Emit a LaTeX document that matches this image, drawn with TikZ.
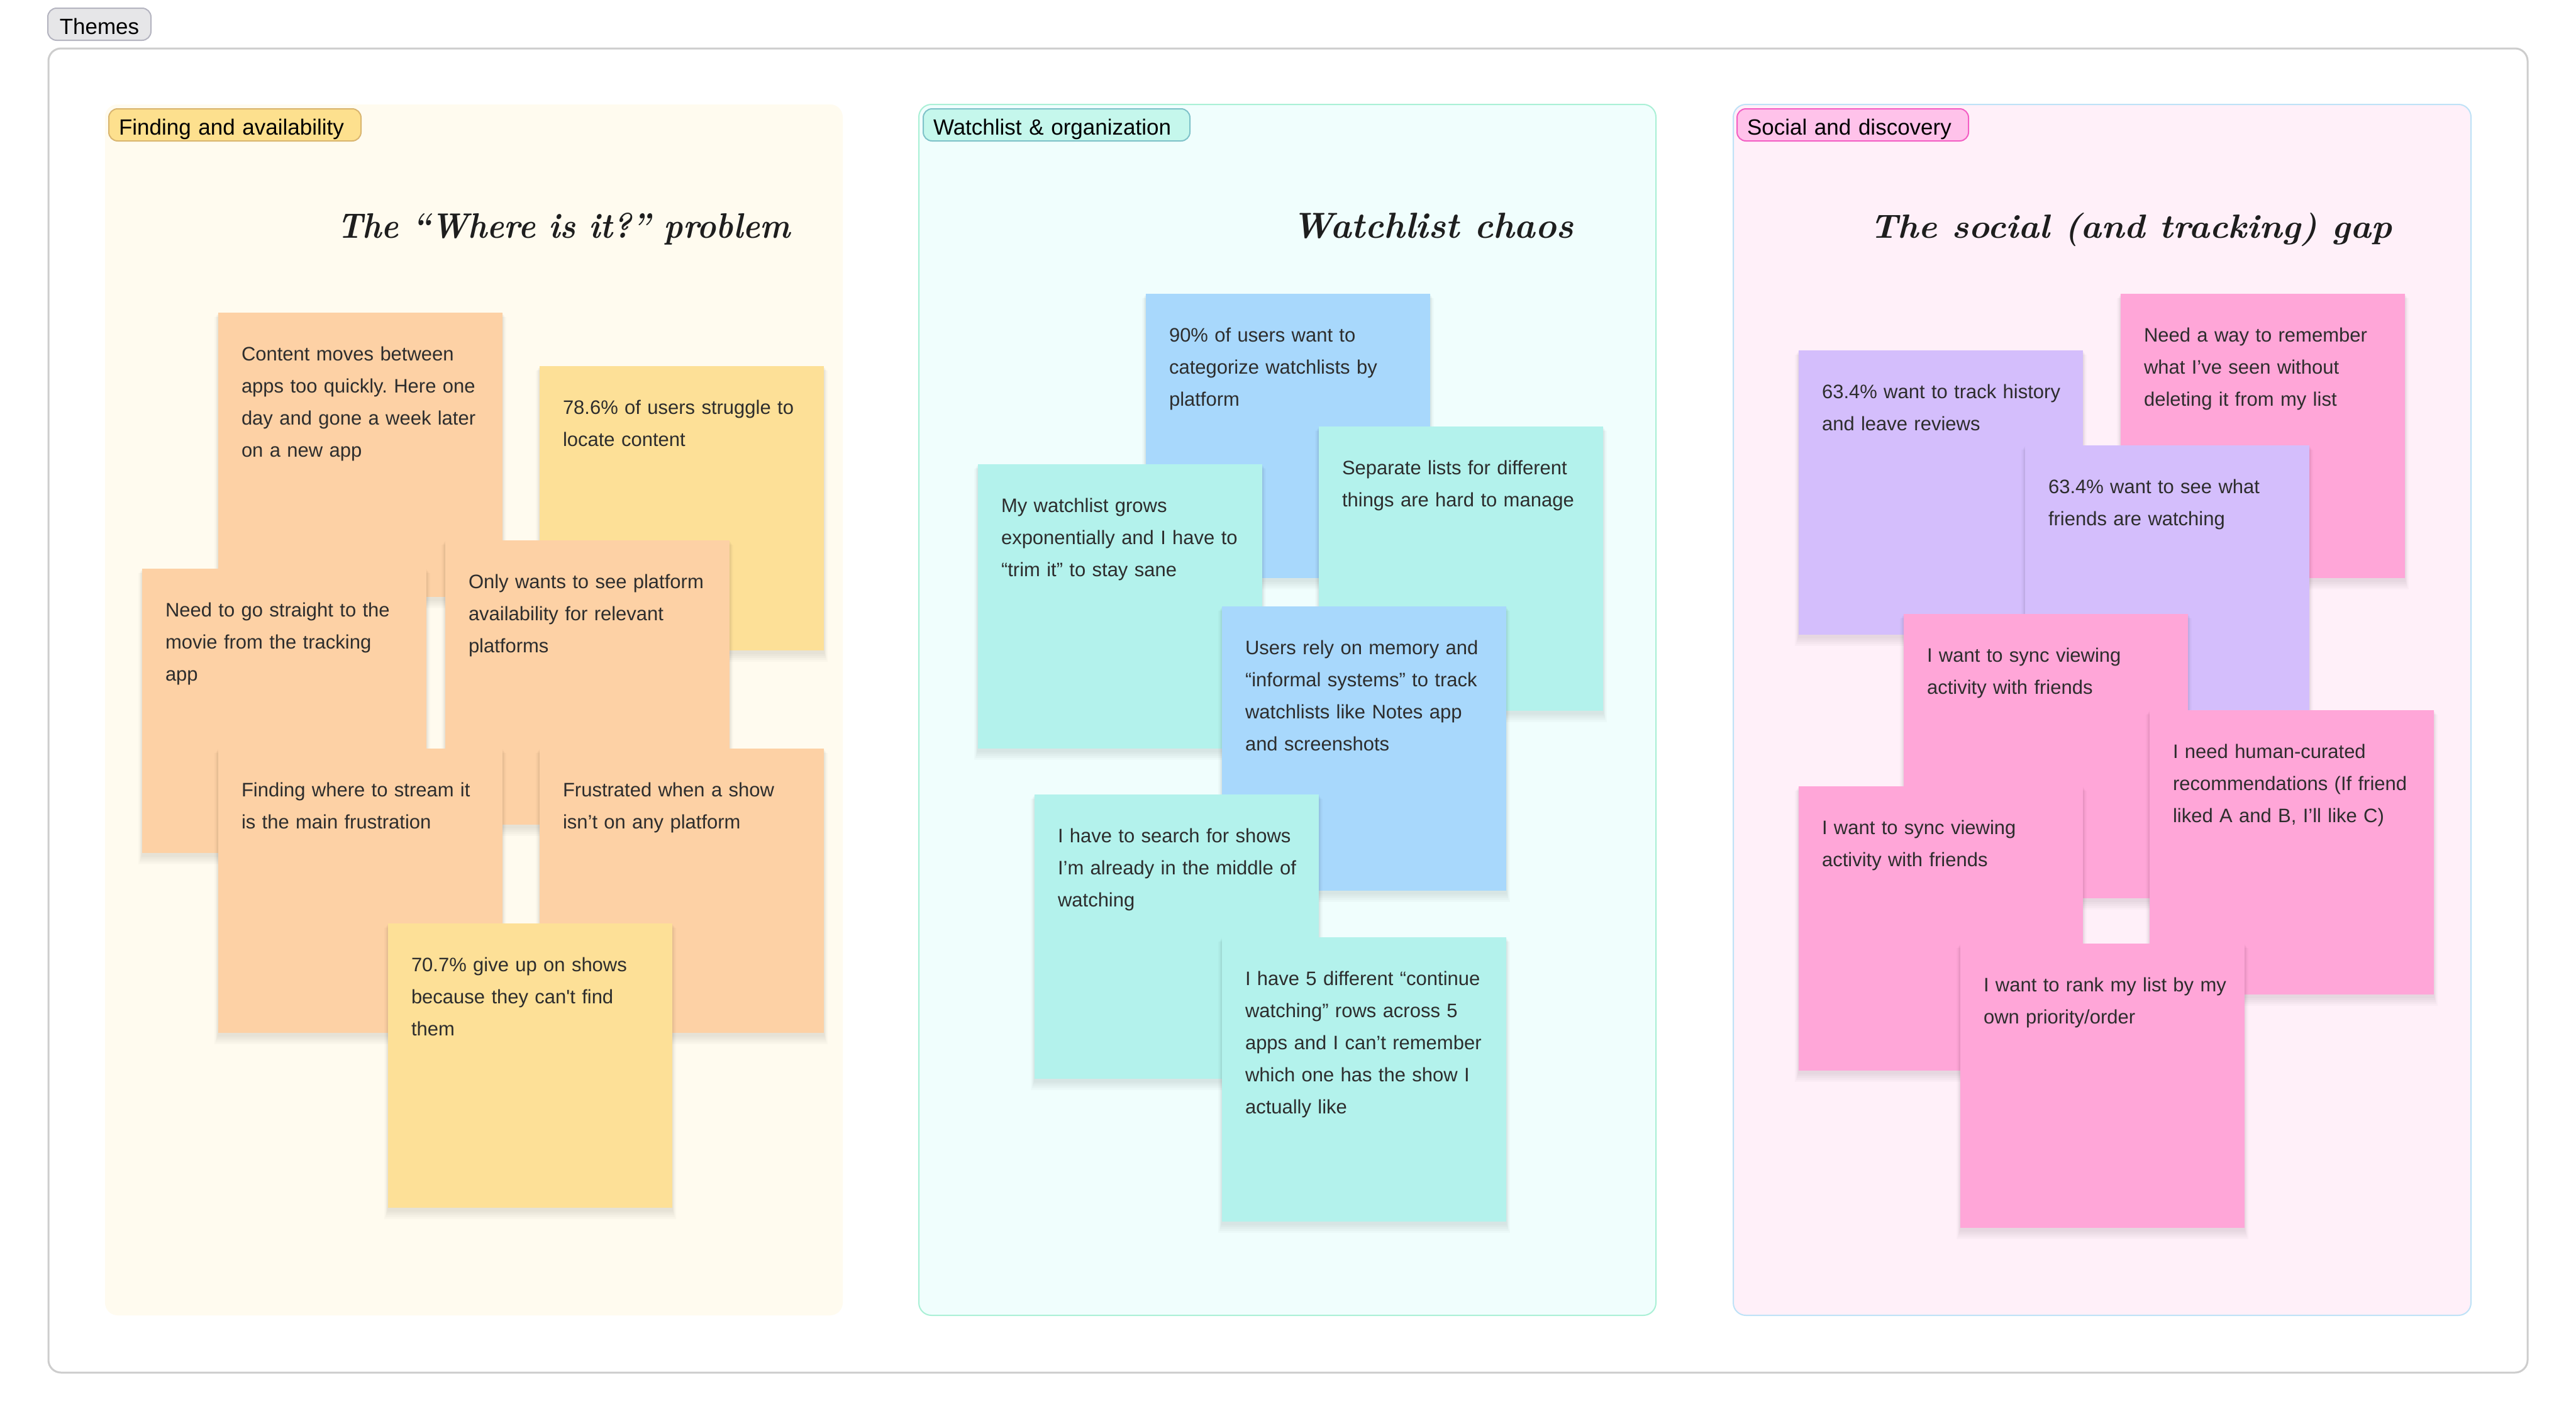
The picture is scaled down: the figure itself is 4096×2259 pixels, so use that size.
\documentclass[tikz,border=0pt]{standalone}
\usepackage{fontspec}
\newfontfamily\notefont{Liberation Sans}
\frenchspacing
\definecolor{framecol}{HTML}{CDCDCD}
\definecolor{themesfill}{HTML}{E6E6E8}
\definecolor{themesdraw}{HTML}{B4B4C0}
\definecolor{paneA}{HTML}{FFFBEF}
\definecolor{paneB}{HTML}{F0FEFD}
\definecolor{paneBdraw}{HTML}{AAF0D6}
\definecolor{paneC}{HTML}{FFF0F9}
\definecolor{paneCdraw}{HTML}{BEE2F7}
\definecolor{tagAfill}{HTML}{FDE08E}
\definecolor{tagAdraw}{HTML}{D9B56F}
\definecolor{tagBfill}{HTML}{C5F7EC}
\definecolor{tagBdraw}{HTML}{7FC2C9}
\definecolor{tagCfill}{HTML}{FFC2EA}
\definecolor{tagCdraw}{HTML}{F35EC4}
\definecolor{orangenote}{HTML}{FDD1A5}
\definecolor{yellownote}{HTML}{FDE097}
\definecolor{bluenote}{HTML}{A8D8FC}
\definecolor{cyannote}{HTML}{B3F2EC}
\definecolor{purplenote}{HTML}{D4BEFC}
\definecolor{pinknote}{HTML}{FFA6D8}
\definecolor{notetextcol}{HTML}{2D2D2D}
\definecolor{titlecol}{HTML}{1E1E1E}
\tikzset{
  notebox/.style={anchor=north west, minimum width=452pt, minimum height=452pt, inner sep=0pt, outer sep=0pt},
  notetext/.style={anchor=north west, inner sep=0pt, outer sep=0pt, text width=400pt, align=left,
    font=\notefont\fontsize{31}{51}\selectfont, text=notetextcol},
  tagbox/.style={anchor=north west, draw, line width=2pt, rounded corners=14pt, inner xsep=16pt, inner ysep=0pt,
    text height=41pt, text depth=10pt, align=left, font=\notefont\fontsize{35}{42}\selectfont, text=black},
  titletext/.style={anchor=base west, inner sep=0pt, font=\bfseries\itshape, text=titlecol},
  panel/.style={rounded corners=20pt, line width=2pt}
}
\newcommand{\stickynote}[5]{%
  \foreach \r in {2,5,8,11,14}{%
    \fill[black, opacity=0.02] ({#2-\r*0.4},{#3+\r*0.5}) rectangle ({#2+452+\r*0.4},{#3+456+\r});
  }%
  \node[notebox, fill=#4] (#1) at (#2,#3) {};
  \node[notetext] (#1t) at ([shift={(37,51)}]#1.north west) {\rule{0pt}{25pt}#5};
}
\begin{document}
\begin{tikzpicture}[x=1pt, y=-1pt]
\useasboundingbox (0,0) rectangle (4096,2259);
\fill[white] (0,0) rectangle (4096,2259);

% themes tag
\node[tagbox, draw=themesdraw, fill=themesfill, inner xsep=0pt, text width=164pt, align=center] (themes) at (75,12) {Themes};

% outer frame
\draw[framecol, line width=3pt, rounded corners=20pt, fill=white] (77,77) rectangle (4019,2182);

% panels
\fill[panel, paneA] (167,166) rectangle (1340,2091);
\draw[panel, draw=paneBdraw, fill=paneB] (1461,166) rectangle (2633,2091);
\draw[panel, draw=paneCdraw, fill=paneC] (2756,166) rectangle (3929,2091);

% tags
\node[tagbox, draw=tagAdraw, fill=tagAfill, text width=369pt] (tagA) at (172,172) {Finding and availability};
\node[tagbox, draw=tagBdraw, fill=tagBfill, text width=392pt] (tagB) at (1467,172) {Watchlist \& organization};
\node[tagbox, draw=tagCdraw, fill=tagCfill, text width=336pt] (tagC) at (2761,172) {Social and discovery};

% titles
\node[titletext] (titleA) at (536,378) {\resizebox{720pt}{40pt}{The “Where is it?” problem}};
\node[titletext] (titleB) at (2054,378) {\resizebox{448pt}{40pt}{Watchlist chaos}};
\node[titletext] (titleC) at (2973,378) {\resizebox{830pt}{40pt}{The social (and tracking) gap}};

% panel 1 notes
\stickynote{nA}{347}{497}{orangenote}{Content moves between\\apps too quickly. Here one\\day and gone a week later\\on a new app}
\stickynote{nB}{858}{582}{yellownote}{78.6\% of users struggle to\\locate content}
\stickynote{nC}{226}{904}{orangenote}{Need to go straight to the\\movie from the tracking\\app}
\stickynote{nD}{708}{859}{orangenote}{Only wants to see platform\\availability for relevant\\platforms}
\stickynote{nE}{347}{1190}{orangenote}{Finding where to stream it\\is the main frustration}
\stickynote{nF}{858}{1190}{orangenote}{Frustrated when a show\\isn’t on any platform}
\stickynote{nG}{617}{1468}{yellownote}{70.7\% give up on shows\\because they can\textquotesingle t find\\them}

% panel 2 notes
\stickynote{mA}{1822}{467}{bluenote}{90\% of users want to\\categorize watchlists by\\platform}
\stickynote{mB}{1555}{738}{cyannote}{My watchlist grows\\exponentially and I have to\\“trim it” to stay sane}
\stickynote{mC}{2097}{678}{cyannote}{Separate lists for different\\things are hard to manage}
\stickynote{mD}{1943}{964}{bluenote}{Users rely on memory and\\“informal systems” to track\\watchlists like Notes app\\and screenshots}
\stickynote{mE}{1645}{1263}{cyannote}{I have to search for shows\\I’m already in the middle of\\watching}
\stickynote{mF}{1943}{1490}{cyannote}{I have 5 different “continue\\watching” rows across 5\\apps and I can’t remember\\which one has the show I\\actually like}

% panel 3 notes
\stickynote{pA}{3372}{467}{pinknote}{Need a way to remember\\what I’ve seen without\\deleting it from my list}
\stickynote{pB}{2860}{557}{purplenote}{63.4\% want to track history\\and leave reviews}
\stickynote{pC}{3220}{708}{purplenote}{63.4\% want to see what\\friends are watching}
\stickynote{pD}{3027}{976}{pinknote}{I want to sync viewing\\activity with friends}
\stickynote{pE}{3418}{1129}{pinknote}{I need human-curated\\recommendations (If friend\\liked A and B, I’ll like C)}
\stickynote{pF}{2860}{1250}{pinknote}{I want to sync viewing\\activity with friends}
\stickynote{pG}{3117}{1500}{pinknote}{I want to rank my list by my\\own priority/order}
\end{tikzpicture}
\end{document}
